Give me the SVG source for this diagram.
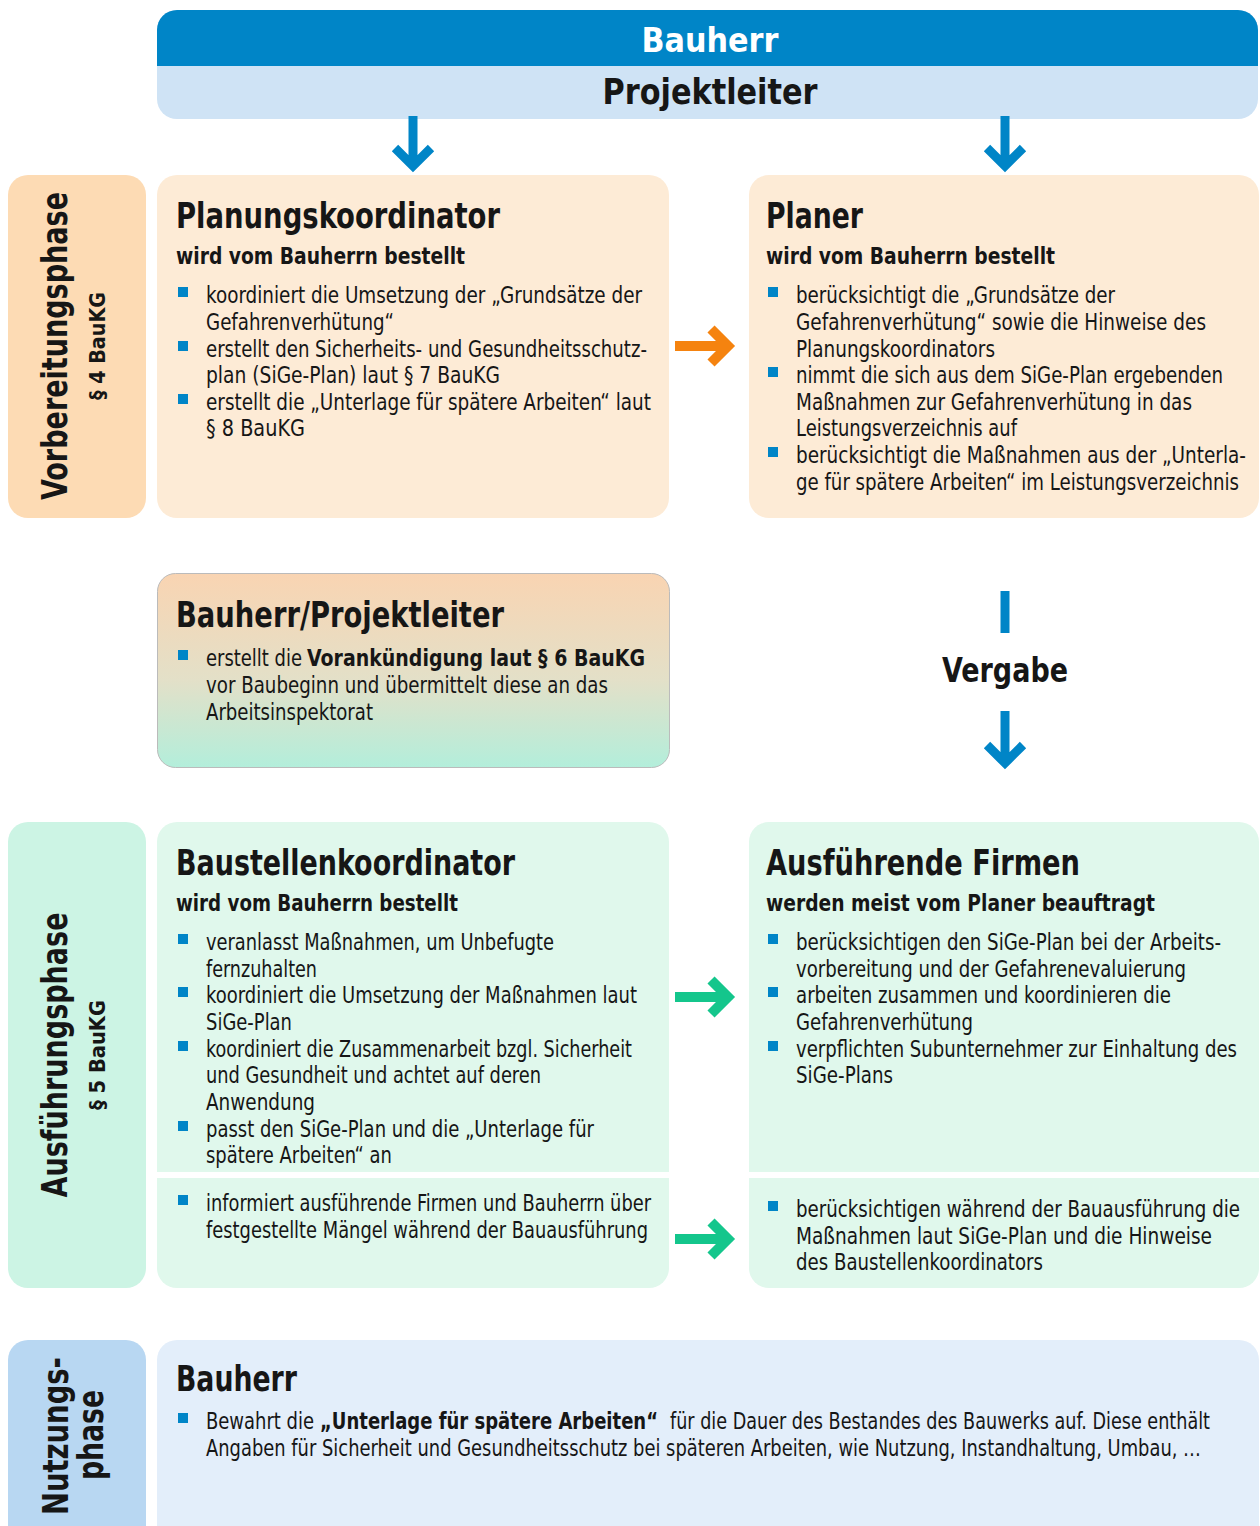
<svg xmlns="http://www.w3.org/2000/svg" width="1260" height="1526" viewBox="0 0 1260 1526">
<style>
text{font-family:"DejaVu Sans Condensed","Liberation Sans",sans-serif;fill:#161616}
.h1{font-size:36px;font-weight:bold}
.h2{font-size:23px;font-weight:bold}
.b{font-size:23px}
.bb{font-size:23px;font-weight:bold}
.side{font-size:36px;font-weight:bold}
.side2{font-size:22px;font-weight:bold}
.sq{fill:#0085C7}
.ab{fill:none;stroke:#0085C7;stroke-width:9}
.ao{fill:none;stroke:#F5830F;stroke-width:10}
.ag{fill:none;stroke:#14C68C;stroke-width:10}
</style>
<defs>
<linearGradient id="gBP" x1="0" y1="0" x2="0" y2="1">
<stop offset="0" stop-color="#F9D4B2"/>
<stop offset="0.55" stop-color="#E3E0C8"/>
<stop offset="1" stop-color="#B3EEDB"/>
</linearGradient>
</defs>

<g id="header">
<rect x="157" y="10" width="1101" height="109" rx="20" fill="#CFE3F5"/>
<path d="M157,66 V30 A20,20 0 0 1 177,10 H1238 A20,20 0 0 1 1258,30 V66 Z" fill="#0085C7"/>
<text x="710" y="52" text-anchor="middle" textLength="137" lengthAdjust="spacingAndGlyphs" style="font-size:34px;font-weight:bold;fill:#fff">Bauherr</text>
<text x="710" y="104" text-anchor="middle" textLength="215" lengthAdjust="spacingAndGlyphs" style="font-size:36px;font-weight:bold">Projektleiter</text>
</g>

<g id="side-vorbereitung">
<rect x="8" y="175" width="138" height="343" rx="20" fill="#FDDBB4"/>
<text class="side" transform="translate(67,346) rotate(-90)" text-anchor="middle" textLength="308" lengthAdjust="spacingAndGlyphs">Vorbereitungsphase</text>
<text class="side2" transform="translate(105,346) rotate(-90)" text-anchor="middle" textLength="108" lengthAdjust="spacingAndGlyphs">§ 4 BauKG</text>
</g>

<g id="planungskoordinator">
<rect x="157" y="175" width="512" height="343" rx="20" fill="#FDEBD6"/>
<text class="h1" x="176" y="228" textLength="324" lengthAdjust="spacingAndGlyphs">Planungskoordinator</text>
<text class="h2" x="176" y="264" textLength="289" lengthAdjust="spacingAndGlyphs">wird vom Bauherrn bestellt</text>
<rect class="sq" x="178" y="287" width="10" height="10"/>
<rect class="sq" x="178" y="341" width="10" height="10"/>
<rect class="sq" x="178" y="394" width="10" height="10"/>
<text class="b" x="206" y="303" textLength="436" lengthAdjust="spacingAndGlyphs">koordiniert die Umsetzung der „Grundsätze der</text>
<text class="b" x="206" y="330" textLength="188" lengthAdjust="spacingAndGlyphs">Gefahrenverhütung“</text>
<text class="b" x="206" y="357" textLength="441" lengthAdjust="spacingAndGlyphs">erstellt den Sicherheits- und Gesundheitsschutz-</text>
<text class="b" x="206" y="383" textLength="294" lengthAdjust="spacingAndGlyphs">plan (SiGe-Plan) laut § 7 BauKG</text>
<text class="b" x="206" y="410" textLength="445" lengthAdjust="spacingAndGlyphs">erstellt die „Unterlage für spätere Arbeiten“ laut</text>
<text class="b" x="206" y="436" textLength="99" lengthAdjust="spacingAndGlyphs">§ 8 BauKG</text>
</g>

<g id="planer">
<rect x="749" y="175" width="510" height="343" rx="20" fill="#FDEBD6"/>
<text class="h1" x="766" y="228" textLength="97" lengthAdjust="spacingAndGlyphs">Planer</text>
<text class="h2" x="766" y="264" textLength="289" lengthAdjust="spacingAndGlyphs">wird vom Bauherrn bestellt</text>
<rect class="sq" x="768" y="287" width="10" height="10"/>
<rect class="sq" x="768" y="367" width="10" height="10"/>
<rect class="sq" x="768" y="447" width="10" height="10"/>
<text class="b" x="796" y="303" textLength="319" lengthAdjust="spacingAndGlyphs">berücksichtigt die „Grundsätze der</text>
<text class="b" x="796" y="330" textLength="410" lengthAdjust="spacingAndGlyphs">Gefahrenverhütung“ sowie die Hinweise des</text>
<text class="b" x="796" y="357" textLength="199" lengthAdjust="spacingAndGlyphs">Planungskoordinators</text>
<text class="b" x="796" y="383" textLength="427" lengthAdjust="spacingAndGlyphs">nimmt die sich aus dem SiGe-Plan ergebenden</text>
<text class="b" x="796" y="410" textLength="396" lengthAdjust="spacingAndGlyphs">Maßnahmen zur Gefahrenverhütung in das</text>
<text class="b" x="796" y="436" textLength="221" lengthAdjust="spacingAndGlyphs">Leistungsverzeichnis auf</text>
<text class="b" x="796" y="463" textLength="450" lengthAdjust="spacingAndGlyphs">berücksichtigt die Maßnahmen aus der „Unterla-</text>
<text class="b" x="796" y="490" textLength="443" lengthAdjust="spacingAndGlyphs">ge für spätere Arbeiten“ im Leistungsverzeichnis</text>
</g>

<g id="bauherr-projektleiter">
<rect x="157.5" y="573.5" width="512" height="194" rx="18" fill="url(#gBP)" stroke="#BBBBBB" stroke-width="1"/>
<text class="h1" x="176" y="627" textLength="328" lengthAdjust="spacingAndGlyphs">Bauherr/Projektleiter</text>
<rect class="sq" x="178" y="650" width="10" height="10"/>
<text class="b" x="206" y="666" textLength="96" lengthAdjust="spacingAndGlyphs">erstellt die</text>
<text class="bb" x="307" y="666" textLength="338" lengthAdjust="spacingAndGlyphs">Vorankündigung laut § 6 BauKG</text>
<text class="b" x="206" y="693" textLength="402" lengthAdjust="spacingAndGlyphs">vor Baubeginn und übermittelt diese an das</text>
<text class="b" x="206" y="720" textLength="167" lengthAdjust="spacingAndGlyphs">Arbeitsinspektorat</text>
</g>

<g id="vergabe">
<text x="1005" y="682" text-anchor="middle" textLength="126" lengthAdjust="spacingAndGlyphs" style="font-size:34px;font-weight:bold">Vergabe</text>
</g>

<g id="side-ausfuehrung">
<rect x="8" y="822" width="138" height="466" rx="20" fill="#CCF4E4"/>
<text class="side" transform="translate(67,1055) rotate(-90)" text-anchor="middle" textLength="285" lengthAdjust="spacingAndGlyphs">Ausführungsphase</text>
<text class="side2" transform="translate(105,1055) rotate(-90)" text-anchor="middle" textLength="110" lengthAdjust="spacingAndGlyphs">§ 5 BauKG</text>
</g>

<g id="baustellenkoordinator">
<path d="M157,1172 V842 A20,20 0 0 1 177,822 H649 A20,20 0 0 1 669,842 V1172 Z" fill="#E0F8EC"/>
<path d="M157,1178 H669 V1268 A20,20 0 0 1 649,1288 H177 A20,20 0 0 1 157,1268 Z" fill="#E0F8EC"/>
<text class="h1" x="176" y="875" textLength="339" lengthAdjust="spacingAndGlyphs">Baustellenkoordinator</text>
<text class="h2" x="176" y="911" textLength="282" lengthAdjust="spacingAndGlyphs">wird vom Bauherrn bestellt</text>
<rect class="sq" x="178" y="934" width="10" height="10"/>
<rect class="sq" x="178" y="987" width="10" height="10"/>
<rect class="sq" x="178" y="1041" width="10" height="10"/>
<rect class="sq" x="178" y="1121" width="10" height="10"/>
<rect class="sq" x="178" y="1195" width="10" height="10"/>
<text class="b" x="206" y="950" textLength="348" lengthAdjust="spacingAndGlyphs">veranlasst Maßnahmen, um Unbefugte</text>
<text class="b" x="206" y="977" textLength="111" lengthAdjust="spacingAndGlyphs">fernzuhalten</text>
<text class="b" x="206" y="1003" textLength="431" lengthAdjust="spacingAndGlyphs">koordiniert die Umsetzung der Maßnahmen laut</text>
<text class="b" x="206" y="1030" textLength="86" lengthAdjust="spacingAndGlyphs">SiGe-Plan</text>
<text class="b" x="206" y="1057" textLength="426" lengthAdjust="spacingAndGlyphs">koordiniert die Zusammenarbeit bzgl. Sicherheit</text>
<text class="b" x="206" y="1083" textLength="335" lengthAdjust="spacingAndGlyphs">und Gesundheit und achtet auf deren</text>
<text class="b" x="206" y="1110" textLength="109" lengthAdjust="spacingAndGlyphs">Anwendung</text>
<text class="b" x="206" y="1137" textLength="388" lengthAdjust="spacingAndGlyphs">passt den SiGe-Plan und die „Unterlage für</text>
<text class="b" x="206" y="1163" textLength="186" lengthAdjust="spacingAndGlyphs">spätere Arbeiten“ an</text>
<text class="b" x="206" y="1211" textLength="445" lengthAdjust="spacingAndGlyphs">informiert ausführende Firmen und Bauherrn über</text>
<text class="b" x="206" y="1238" textLength="442" lengthAdjust="spacingAndGlyphs">festgestellte Mängel während der Bauausführung</text>
</g>

<g id="ausfuehrende-firmen">
<path d="M749,1172 V842 A20,20 0 0 1 769,822 H1239 A20,20 0 0 1 1259,842 V1172 Z" fill="#E0F8EC"/>
<path d="M749,1178 H1259 V1268 A20,20 0 0 1 1239,1288 H769 A20,20 0 0 1 749,1268 Z" fill="#E0F8EC"/>
<text class="h1" x="766" y="875" textLength="314" lengthAdjust="spacingAndGlyphs">Ausführende Firmen</text>
<text class="h2" x="766" y="911" textLength="389" lengthAdjust="spacingAndGlyphs">werden meist vom Planer beauftragt</text>
<rect class="sq" x="768" y="934" width="10" height="10"/>
<rect class="sq" x="768" y="987" width="10" height="10"/>
<rect class="sq" x="768" y="1041" width="10" height="10"/>
<rect class="sq" x="768" y="1201" width="10" height="10"/>
<text class="b" x="796" y="950" textLength="425" lengthAdjust="spacingAndGlyphs">berücksichtigen den SiGe-Plan bei der Arbeits-</text>
<text class="b" x="796" y="977" textLength="390" lengthAdjust="spacingAndGlyphs">vorbereitung und der Gefahrenevaluierung</text>
<text class="b" x="796" y="1003" textLength="375" lengthAdjust="spacingAndGlyphs">arbeiten zusammen und koordinieren die</text>
<text class="b" x="796" y="1030" textLength="177" lengthAdjust="spacingAndGlyphs">Gefahrenverhütung</text>
<text class="b" x="796" y="1057" textLength="441" lengthAdjust="spacingAndGlyphs">verpflichten Subunternehmer zur Einhaltung des</text>
<text class="b" x="796" y="1083" textLength="97" lengthAdjust="spacingAndGlyphs">SiGe-Plans</text>
<text class="b" x="796" y="1217" textLength="444" lengthAdjust="spacingAndGlyphs">berücksichtigen während der Bauausführung die</text>
<text class="b" x="796" y="1244" textLength="416" lengthAdjust="spacingAndGlyphs">Maßnahmen laut SiGe-Plan und die Hinweise</text>
<text class="b" x="796" y="1270" textLength="247" lengthAdjust="spacingAndGlyphs">des Baustellenkoordinators</text>
</g>

<g id="side-nutzung">
<rect x="8" y="1340" width="138" height="210" rx="20" fill="#B8D7F2"/>
<text class="side" transform="translate(68,1436) rotate(-90)" text-anchor="middle" textLength="158" lengthAdjust="spacingAndGlyphs">Nutzungs-</text>
<text class="side" transform="translate(103,1435) rotate(-90)" text-anchor="middle" textLength="90" lengthAdjust="spacingAndGlyphs">phase</text>
</g>

<g id="bauherr-nutzung">
<rect x="157" y="1340" width="1102" height="210" rx="20" fill="#E3EEFA"/>
<text class="h1" x="176" y="1391" textLength="121" lengthAdjust="spacingAndGlyphs">Bauherr</text>
<rect class="sq" x="178" y="1413" width="10" height="10"/>
<text class="b" x="206" y="1429" textLength="108" lengthAdjust="spacingAndGlyphs">Bewahrt die</text>
<text class="bb" x="320" y="1429" textLength="338" lengthAdjust="spacingAndGlyphs">„Unterlage für spätere Arbeiten“</text>
<text class="b" x="670" y="1429" textLength="540" lengthAdjust="spacingAndGlyphs">für die Dauer des Bestandes des Bauwerks auf. Diese enthält</text>
<text class="b" x="206" y="1456" textLength="995" lengthAdjust="spacingAndGlyphs">Angaben für Sicherheit und Gesundheitsschutz bei späteren Arbeiten, wie Nutzung, Instandhaltung, Umbau, …</text>
</g>

<g id="connectors">
<path class="ab" d="M413,116 V164 M395,148 L413,166 L431,148"/>
<path class="ab" d="M1005,116 V164 M987,148 L1005,166 L1023,148"/>
<path class="ao" d="M675,346 H726 M711,329 L728,346 L711,363"/>
<path class="ab" d="M1005,591 V633"/>
<path class="ab" d="M1005,711 V760 M987,745 L1005,763 L1023,745"/>
<path class="ag" d="M675,997 H726 M711,980 L728,997 L711,1014"/>
<path class="ag" d="M675,1239 H726 M711,1222 L728,1239 L711,1256"/>
</g>
</svg>
